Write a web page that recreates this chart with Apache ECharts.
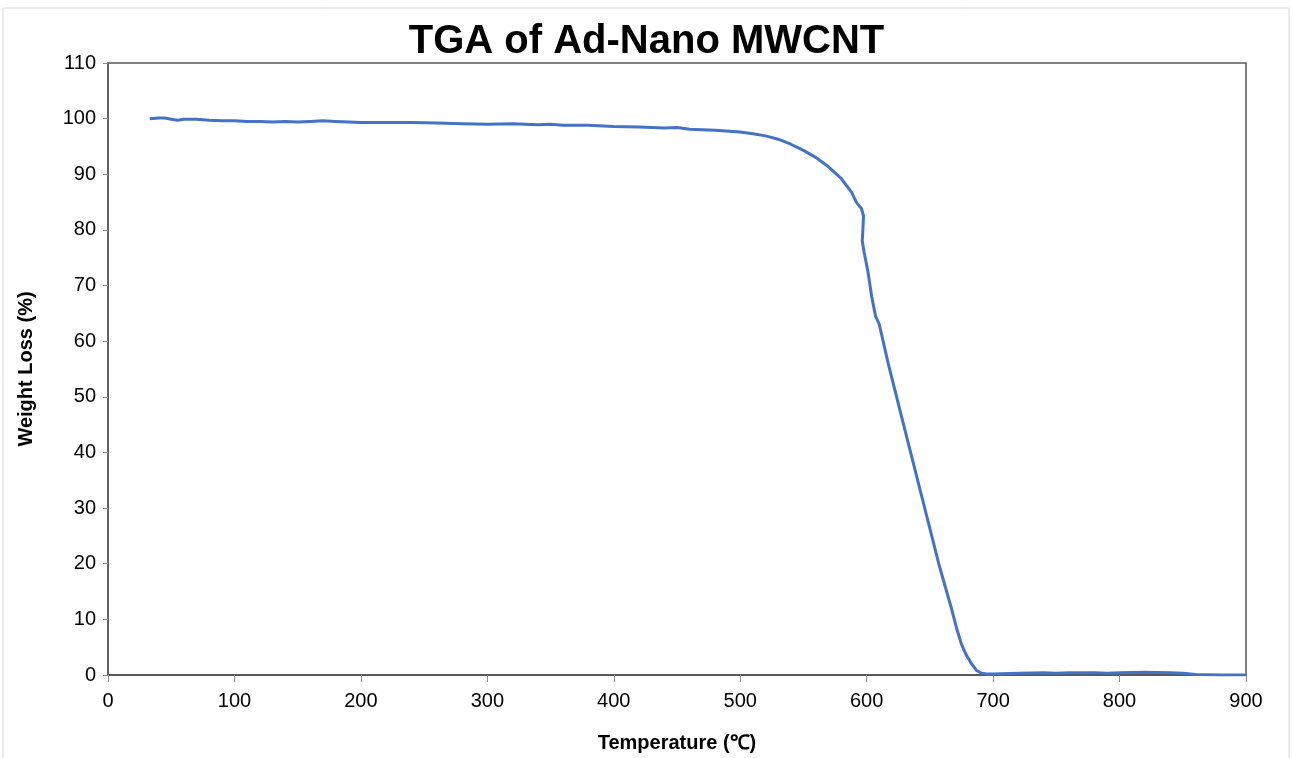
<!DOCTYPE html>
<html>
<head>
<meta charset="utf-8">
<script src="https://cdn.jsdelivr.net/npm/echarts@6/dist/echarts.min.js"></script>
<style>
  html, body { margin: 0; padding: 0; background: #fff; }
  #main { width: 1293px; height: 758px; }
</style>
</head>
<body>
<div id="main"></div>
<script>
var chart = echarts.init(document.getElementById('main'));

// temperature (°C) and weight (%)
var temps = [33, 40, 45, 50, 55, 60, 70, 80, 90, 100, 110, 120, 130, 140, 150, 160, 170, 180, 190, 200,
    220, 240, 260, 280, 300, 320, 340, 350, 360, 380, 400, 420, 440, 450, 460, 480, 500, 510, 520, 530,
    540, 550, 560, 570, 580, 588, 592, 596, 597.5, 597, 596.5, 598, 601, 604, 607, 610, 613, 617, 622, 627,
    632, 637, 642, 647, 652, 657, 662, 667, 671, 675, 679, 683, 687, 691, 695, 700, 720, 740, 750, 760,
    780, 790, 800, 820, 840, 850, 860, 880, 900];
var weights = [100.0, 100.1, 100.1, 99.9, 99.7, 99.9, 99.9, 99.7, 99.6, 99.6, 99.5, 99.5, 99.4, 99.5, 99.4, 99.5, 99.6, 99.5, 99.4, 99.3,
    99.3, 99.3, 99.2, 99.1, 99.0, 99.1, 98.9, 99.0, 98.8, 98.8, 98.6, 98.5, 98.3, 98.4, 98.1, 97.9, 97.6, 97.3, 96.9, 96.3,
    95.4, 94.3, 93.0, 91.3, 89.2, 86.8, 84.9, 83.8, 82.5, 80.0, 78.0, 76.0, 72.5, 68.0, 64.5, 63.0, 60.0, 56.0, 51.5, 47.0,
    42.5, 38.0, 33.5, 29.0, 24.5, 20.0, 16.0, 12.0, 8.5, 5.5, 3.5, 2.0, 0.8, 0.3, 0.2, 0.2, 0.3, 0.4, 0.3, 0.4,
    0.4, 0.3, 0.4, 0.5, 0.4, 0.3, 0.1, 0.0, 0.0];

var data = temps.map(function (t, i) { return [t, weights[i]]; });

var font = '"Liberation Sans Narrow", "Liberation Sans", sans-serif';

var option = {
    backgroundColor: '#fff',
    animation: false,
    title: {
        text: 'TGA of Ad-Nano MWCNT',
        left: 'center',
        top: 17,
        textStyle: { fontFamily: font, fontSize: 40, fontWeight: 'bold', color: '#000' }
    },
    graphic: [{
        type: 'rect',
        shape: { x: 3, y: 8, width: 1286, height: 760 },
        style: { fill: 'none', stroke: '#d9d9d9', lineWidth: 1 }
    }],
    grid: {
        left: 108, right: 47, top: 63, bottom: 81,
        show: true, borderColor: '#595959', borderWidth: 1.5
    },
    xAxis: {
        type: 'value',
        min: 0, max: 900, interval: 100,
        name: 'Temperature (\u2103)',
        nameLocation: 'middle',
        nameGap: 58,
        nameTextStyle: { fontFamily: font, fontSize: 20, fontWeight: 'bold', color: '#000' },
        axisLine: { onZero: false, lineStyle: { color: '#595959', width: 2 } },
        axisTick: { show: true, length: 7, lineStyle: { color: '#8c8c8c' } },
        axisLabel: { fontFamily: font, fontSize: 20, color: '#000', margin: 16 },
        splitLine: { show: false }
    },
    yAxis: {
        type: 'value',
        min: 0, max: 110, interval: 10,
        name: 'Weight Loss (%)',
        nameLocation: 'middle',
        nameGap: 72,
        nameTextStyle: { fontFamily: font, fontSize: 20, fontWeight: 'bold', color: '#000' },
        axisLine: { show: true, lineStyle: { color: '#595959', width: 1.5 } },
        axisTick: { show: true, length: 5, lineStyle: { color: '#8c8c8c' } },
        axisLabel: { fontFamily: font, fontSize: 20, color: '#000', margin: 12 },
        splitLine: { show: false }
    },
    series: [{
        type: 'line',
        data: data,
        showSymbol: false,
        lineStyle: { color: '#4472C4', width: 3 }
    }]
};

chart.setOption(option);
</script>
</body>
</html>
